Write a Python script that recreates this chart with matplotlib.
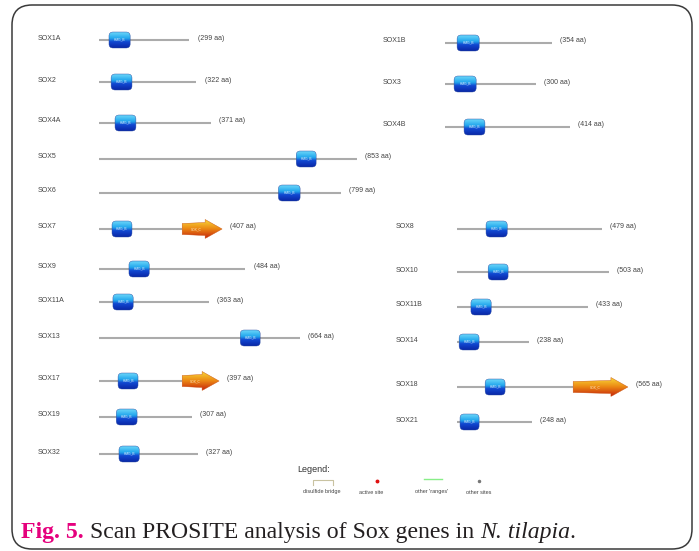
import numpy as np
import matplotlib
matplotlib.use("Agg")
import matplotlib.pyplot as plt
from matplotlib.patches import FancyBboxPatch, Polygon
from matplotlib.colors import LinearSegmentedColormap

plt.rcParams["font.family"] = ["Liberation Sans", "DejaVu Sans"]

# left column proteins (lengths and domains in aa)
left_names = ["SOX1A", "SOX2", "SOX4A", "SOX5", "SOX6", "SOX7",
              "SOX9", "SOX11A", "SOX13", "SOX17", "SOX19", "SOX32"]
left_len = [299, 322, 371, 853, 799, 407, 484, 363, 664, 397, 307, 327]
left_hmg = [(33, 103), (40, 109), (53, 122), (652, 718), (593, 665), (43, 109),
            (99, 166), (46, 113), (467, 533), (63, 129), (57, 126), (66, 133)]
left_soxc = {"SOX7": (275, 407), "SOX17": (275, 397)}

# right column, upper block
rtop_names = ["SOX1B", "SOX3", "SOX4B"]
rtop_len = [354, 300, 414]
rtop_hmg = [(40, 113), (30, 103), (63, 132)]

# right column, lower block
rlow_names = ["SOX8", "SOX10", "SOX11B", "SOX14", "SOX18", "SOX21"]
rlow_len = [479, 503, 433, 238, 565, 248]
rlow_hmg = [(96, 166), (103, 169), (46, 113), (7, 73), (93, 159), (10, 73)]
rlow_soxc = {"SOX18": (384, 565)}

legend_labels = ["disulfide bridge", "active site", "other 'ranges'", "other sites"]

# layout (pixels)
W, H = 699, 551
PX_PER_AA = 0.3025
left_y = [40, 82, 123, 159, 193, 229, 269, 302, 338, 381, 417, 454]
rtop_y = [43, 84, 127]
rlow_y = [229, 272, 307, 342, 387, 422]

hmg_cmap = LinearSegmentedColormap.from_list(
    "hmg", [(0, "#6ad6fa"), (0.4, "#22a6ec"), (0.6, "#1248d2"), (1, "#0a28a6")])
soxc_cmap = LinearSegmentedColormap.from_list(
    "soxc", [(0, "#f8da3a"), (0.5, "#ec8a14"), (1, "#c8280c")])
grad = np.linspace(0, 1, 64).reshape(-1, 1)

fig = plt.figure(figsize=(W / 100, H / 100), dpi=100)
bg = fig.add_axes([0, 0, 1, 1])
bg.set_xlim(0, W)
bg.set_ylim(H, 0)
bg.axis("off")

# rounded frame
frame = FancyBboxPatch((12, 5), 680, 544, boxstyle="round,pad=0,rounding_size=20",
                       fc="white", ec="#3a3a3a", lw=1.1)
bg.add_patch(frame)


def track_axes(x0, width):
    ax = fig.add_axes([x0 / W, 0, width / W, 1])
    ax.set_xlim(0, width / PX_PER_AA)
    ax.set_ylim(H, 0)
    ax.axis("off")
    return ax


def draw_row(ax, y, length, hmg, soxc=None):
    end = soxc[0] if soxc else length
    ax.plot([0, end], [y, y], color="#ababab", lw=1.5, solid_capstyle="butt", zorder=1)

    s, e = hmg
    box = FancyBboxPatch((s, y - 8), e - s, 16,
                         boxstyle="round,pad=0,rounding_size=%f" % (4 / PX_PER_AA),
                         mutation_aspect=PX_PER_AA, fc="none", ec="#2a4aa0", lw=0.3, zorder=3)
    ax.add_patch(box)
    im = ax.imshow(grad, cmap=hmg_cmap, extent=(s, e, y + 8, y - 8),
                   aspect="auto", zorder=2, interpolation="bilinear")
    im.set_clip_path(box)
    ax.text((s + e) / 2, y - 1, "HMG_B", fontsize=2.3, color="#e8f4ff",
            ha="center", va="center", zorder=4)

    if soxc:
        a, b = soxc
        head = 17 / PX_PER_AA
        pts = [(a, y - 5.5), (b - head, y - 6.5), (b - head, y - 9.5), (b, y),
               (b - head, y + 9.5), (b - head, y + 6.5), (a, y + 5.5)]
        arrow = Polygon(pts, closed=True, fc="none", ec="#c85010", lw=0.3, zorder=3)
        ax.add_patch(arrow)
        im2 = ax.imshow(grad, cmap=soxc_cmap, extent=(a, b, y + 9.5, y - 9.5),
                        aspect="auto", zorder=2, interpolation="bilinear")
        im2.set_clip_path(arrow)
        ax.text((a + b - head) / 2 + 10, y, "SOX_C", fontsize=2.3, color="#fff0d0",
                ha="center", va="center", zorder=4)

    ax.text(length + 27, y - 2, "(%d aa)" % length, fontsize=5, color="#444444",
            ha="left", va="center")


groups = [
    (99, 290, 38, left_names, left_len, left_hmg, left_soxc, left_y),
    (445, 250, 383, rtop_names, rtop_len, rtop_hmg, {}, rtop_y),
    (457, 240, 396, rlow_names, rlow_len, rlow_hmg, rlow_soxc, rlow_y),
]
for x0, width, label_x, names, lens, hmgs, soxcs, ys in groups:
    ax = track_axes(x0, width)
    for name, n, hmg, y in zip(names, lens, hmgs, ys):
        draw_row(ax, y, n, hmg, soxcs.get(name))
        bg.text(label_x, y - 2, name, fontsize=5, color="#444444", ha="left", va="center")
    ax.set_xlim(0, width / PX_PER_AA)
    ax.set_ylim(H, 0)

# legend
bg.text(297, 469, "Legend:", fontsize=6.5, color="#333333", ha="left", va="center")
bg.plot([313, 313, 333, 333], [485, 480, 480, 485], color="#c9c3a2", lw=0.8)
bg.plot([377], [481], "o", color="#e01010", ms=1.8)
bg.plot([424, 442], [479, 479], color="#88ee88", lw=1.0)
bg.plot([479], [481], "o", color="#777777", ms=1.5)
for lx, lab in zip([322, 371, 432, 479], legend_labels):
    bg.text(lx, 492, lab, fontsize=4, color="#444444", ha="center", va="center")

# caption, pieces with different styles
pieces = [("Fig. 5.", "bold", "normal", "#e5007d"),
          (" Scan PROSITE analysis of Sox genes in ", "normal", "normal", "#231f20"),
          ("N. tilapia", "normal", "italic", "#231f20"),
          (".", "normal", "normal", "#231f20")]
renderer = fig.canvas.get_renderer()
x = 21
for txt, weight, style, col in pieces:
    t = bg.text(x, 538, txt, fontsize=17.1, family="Liberation Serif", fontweight=weight,
                fontstyle=style, color=col, ha="left", va="baseline")
    bb = t.get_window_extent(renderer=renderer)
    x = bg.transData.inverted().transform((bb.x1, bb.y0))[0]

fig.savefig("out.png", dpi=100)
